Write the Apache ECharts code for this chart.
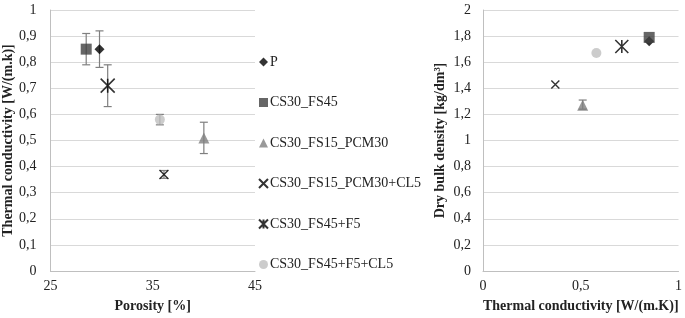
<!DOCTYPE html>
<html>
<head>
<meta charset="utf-8">
<script src="https://cdn.jsdelivr.net/npm/echarts@6/dist/echarts.min.js"></script>
<style>
  html, body { margin: 0; padding: 0; background: #fff; }
  #main { width: 685px; height: 318px; }
</style>
</head>
<body>
<div id="main"></div>
<script>
// series names (legend order)
var names = ['P', 'CS30_FS45', 'CS30_FS15_PCM30', 'CS30_FS15_PCM30+CL5', 'CS30_FS45+F5', 'CS30_FS45+F5+CL5'];
// left chart: porosity [%] vs thermal conductivity [W/(m.k)]
var porosity = [29.8, 28.5, 40.0, 36.1, 30.6, 35.7];
var conductivity = [0.85, 0.85, 0.51, 0.37, 0.71, 0.58];
var condLow = [0.78, 0.79, 0.45, 0.355, 0.63, 0.56];
var condHigh = [0.92, 0.91, 0.57, 0.385, 0.79, 0.60];
// right chart: thermal conductivity vs dry bulk density [kg/dm3]
var density = [1.76, 1.79, 1.27, 1.43, 1.72, 1.67];
var densLow = [null, null, 1.24, null, null, null];
var densHigh = [null, null, 1.31, null, null, null];

var FONT = 'Liberation Serif';
var crossPath = 'path://M0,0L10,10M0,10L10,0';
var starPath = 'path://M0,0L10,10M0,10L10,0M5,0L5,10';

var markers = [
  { symbol: 'diamond', size: 10, style: { color: '#000' } },
  { symbol: 'rect', size: 11, style: { color: '#404040' } },
  { symbol: 'triangle', size: 11, style: { color: '#808080' } },
  { symbol: crossPath, size: 9, style: { color: 'transparent', borderColor: '#000', borderWidth: 1.4 } },
  { symbol: starPath, size: 14, style: { color: 'transparent', borderColor: '#000', borderWidth: 1.6 } },
  { symbol: 'circle', size: 10, style: { color: '#bfbfbf' } }
];

function fmt(v) {
  return String(+v.toFixed(1)).replace('.', ',');
}

function errorBars(params, api) {
  var x = api.value(0);
  var lo = api.coord([x, api.value(1)]);
  var hi = api.coord([x, api.value(2)]);
  var w = 4;
  var st = { stroke: '#7f7f7f', lineWidth: 1.2 };
  return {
    type: 'group',
    children: [
      { type: 'line', shape: { x1: lo[0], y1: lo[1], x2: hi[0], y2: hi[1] }, style: st },
      { type: 'line', shape: { x1: lo[0] - w, y1: lo[1], x2: lo[0] + w, y2: lo[1] }, style: st },
      { type: 'line', shape: { x1: hi[0] - w, y1: hi[1], x2: hi[0] + w, y2: hi[1] }, style: st }
    ]
  };
}

var leftErr = [], rightErr = [];
for (var i = 0; i < names.length; i++) {
  leftErr.push([porosity[i], condLow[i], condHigh[i]]);
  if (densLow[i] != null) rightErr.push([conductivity[i], densLow[i], densHigh[i]]);
}

var series = [
  { type: 'custom', xAxisIndex: 0, yAxisIndex: 0, renderItem: errorBars, data: leftErr, z: 2, silent: true },
  { type: 'custom', xAxisIndex: 1, yAxisIndex: 1, renderItem: errorBars, data: rightErr, z: 2, silent: true }
];
names.forEach(function (n, i) {
  var m = markers[i];
  series.push({
    name: n, type: 'scatter', xAxisIndex: 0, yAxisIndex: 0,
    symbol: m.symbol, symbolSize: m.size, itemStyle: m.style, z: 3,
    data: [[porosity[i], conductivity[i]]]
  });
  series.push({
    name: n, type: 'scatter', xAxisIndex: 1, yAxisIndex: 1,
    symbol: m.symbol, symbolSize: i === 4 ? 13 : (i === 3 ? 8 : m.size), itemStyle: m.style, z: 3,
    data: [[conductivity[i], density[i]]]
  });
});

var labelStyle = { fontFamily: FONT, fontSize: 14, color: '#222' };
var nameStyle = { fontFamily: FONT, fontSize: 14, fontWeight: 'bold', color: '#222' };
var lineStyle = { show: true, lineStyle: { color: '#bfbfbf', width: 1 } };
var gridLine = { show: true, lineStyle: { color: '#d9d9d9', width: 1 } };

var option = {
  animation: false,
  textStyle: { fontFamily: FONT },
  grid: [
    { left: 49, top: 10, width: 206, bottom: 46 },
    { left: 483, top: 10, width: 200, bottom: 46 }
  ],
  legend: {
    orient: 'vertical', left: 253, top: 50,
    itemWidth: 9, itemHeight: 9, itemGap: 26.5,
    textStyle: { fontFamily: FONT, fontSize: 14, color: '#222', lineHeight: 14, padding: [0, 0, 0, -3] },
    data: names
  },
  xAxis: [
    {
      gridIndex: 0, type: 'value', min: 25, max: 45, interval: 10,
      axisLine: lineStyle, axisTick: { show: false }, splitLine: { show: false },
      axisLabel: Object.assign({ margin: 8 }, labelStyle),
      name: 'Porosity [%]', nameLocation: 'middle', nameGap: 28, nameTextStyle: nameStyle
    },
    {
      gridIndex: 1, type: 'value', min: 0, max: 1, interval: 0.5,
      axisLine: lineStyle, axisTick: { show: false }, splitLine: { show: false },
      axisLabel: Object.assign({ margin: 8, formatter: fmt }, labelStyle),
      name: 'Thermal conductivity [W/(m.K)]', nameLocation: 'middle', nameGap: 28, nameTextStyle: nameStyle
    }
  ],
  yAxis: [
    {
      gridIndex: 0, type: 'value', min: 0, max: 1, interval: 0.1,
      axisLine: lineStyle, axisTick: { show: false }, splitLine: gridLine,
      axisLabel: Object.assign({ margin: 14, formatter: fmt }, labelStyle),
      name: 'Thermal conductivity [W/(m.k)]', nameLocation: 'middle', nameGap: 25, nameTextStyle: nameStyle
    },
    {
      gridIndex: 1, type: 'value', min: 0, max: 2, interval: 0.2,
      axisLine: lineStyle, axisTick: { show: false }, splitLine: gridLine,
      axisLabel: Object.assign({ margin: 12, formatter: fmt }, labelStyle),
      name: 'Dry bulk density [kg/dm³]', nameLocation: 'middle', nameGap: 36, nameTextStyle: nameStyle
    }
  ],
  series: series
};

var chart = echarts.init(document.getElementById('main'), null, { renderer: 'canvas' });
chart.setOption(option);
</script>
</body>
</html>
